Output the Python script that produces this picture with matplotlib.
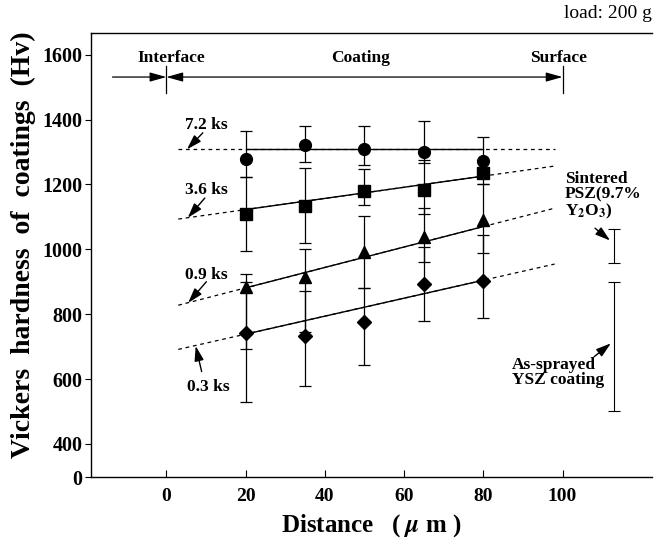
import numpy as np
import matplotlib
matplotlib.use("Agg")
import matplotlib.pyplot as plt

plt.rcParams['font.family'] = ['Liberation Serif', 'DejaVu Serif']
plt.rcParams['font.weight'] = 'bold'
plt.rcParams['mathtext.fontset'] = 'stix'

# ---------------- data ----------------
distance = [20, 35, 50, 65, 80]

hv_72 = [1278, 1320, 1309, 1301, 1273]
lo_72 = [1224, 1270, 1260, 1265, 1240]
hi_72 = [1366, 1381, 1380, 1394, 1346]

hv_36 = [1108, 1132, 1181, 1183, 1236]
lo_36 = [996, 1019, 1135, 1109, 1202]
hi_36 = [1224, 1250, 1246, 1276, 1270]

hv_09 = [885, 916, 993, 1037, 1091]
lo_09 = [692, 745, 880, 960, 988]
hi_09 = [924, 1000, 1103, 1126, 1200]

hv_03 = [741, 733, 775, 893, 901]
lo_03 = [530, 577, 643, 779, 787]
hi_03 = [900, 870, 880, 1008, 1044]

# fitted lines: intercept, slope  (7.2, 3.6, 0.9, 0.3 ks)
fit_labels = ['7.2 ks', '3.6 ks', '0.9 ks', '0.3 ks']
fit_intercept = [1308, 1088, 818, 683]
fit_slope = [0.0, 1.72, 3.15, 2.77]
fit_solid_range = [20, 80]
fit_dashed_range = [3, 98]

# reference materials (x position, mean, low, high)
ref_x = [113, 113]
ref_mean = [1010, 700]
ref_lo = [957, 500]
ref_hi = [1063, 900]

xticks = [0, 20, 40, 60, 80, 100]
yticks = [400, 600, 800, 1000, 1200, 1400, 1600]
y_bottom = 297
y_top = 1667

# ---------------- figure ----------------
fig = plt.figure(figsize=(6.55, 5.38), dpi=100)
ax = fig.add_axes([0.1385, 0.1128, 0.857, 0.826])
ax.set_xlim(-19.1, 122.6)
ax.set_ylim(y_bottom, y_top)

def eb(x, y, lo, hi, marker, ms):
    y = np.array(y); lo = np.array(lo); hi = np.array(hi)
    ax.errorbar(x, y, yerr=[y - lo, hi - y], fmt=marker, color='black',
                ms=ms, elinewidth=0.9, capsize=4, capthick=0.9,
                markeredgecolor='black', zorder=3)

eb(distance, hv_72, lo_72, hi_72, 'o', 8.5)
eb(distance, hv_36, lo_36, hi_36, 's', 8.5)
eb(distance, hv_09, lo_09, hi_09, '^', 8.5)
eb(distance, hv_03, lo_03, hi_03, 'D', 7)

for b, m in zip(fit_intercept, fit_slope):
    xd = np.array(fit_dashed_range, dtype=float)
    ax.plot(xd, b + m * xd, color='black', lw=0.9, ls=(0, (3, 3)), zorder=2)
    xs = np.array(fit_solid_range, dtype=float)
    ax.plot(xs, b + m * xs, color='black', lw=1.0, zorder=2)

rm = np.array(ref_mean); rl = np.array(ref_lo); rh = np.array(ref_hi)
ax.errorbar(ref_x, rm, yerr=[rm - rl, rh - rm], fmt='none', ecolor='black',
            elinewidth=0.8, capsize=4, capthick=0.8)

# ---------------- annotations ----------------
arrow = dict(arrowstyle='-|>,head_length=0.9,head_width=0.28', color='black',
             lw=1.0, shrinkA=0, shrinkB=0)
lab_font = dict(fontsize=12.5, fontweight='bold', ha='center', va='center')

ax.text(10.2, 1384, '7.2 ks', **lab_font)
ax.annotate('', xy=(5.2, 1308), xytext=(9.2, 1359), arrowprops=arrow)
ax.text(10.2, 1183, '3.6 ks', **lab_font)
ax.annotate('', xy=(5.4, 1097), xytext=(9.7, 1158), arrowprops=arrow)
ax.text(10.2, 921, '0.9 ks', **lab_font)
ax.annotate('', xy=(5.5, 835), xytext=(10.1, 900), arrowprops=arrow)
ax.text(10.5, 576, '0.3 ks', **lab_font)
ax.annotate('', xy=(7.4, 702), xytext=(8.9, 623), arrowprops=arrow)

ax.text(100.6, 1165, 'Sintered\nPSZ(9.7%\nY$_{\\mathbf{2}}$O$_{\\mathbf{3}}$)', fontsize=12.5,
        fontweight='bold', ha='left', va='center', linespacing=0.95)
ax.annotate('', xy=(112.0, 1027), xytext=(108.2, 1065), arrowprops=arrow)
ax.text(87.2, 621, 'As-sprayed\nYSZ coating', fontsize=12.5, fontweight='bold',
        ha='left', va='center', linespacing=0.95)
ax.annotate('', xy=(112.2, 710), xytext=(108.0, 669), arrowprops=arrow)

# region arrows at top
top_arrow = dict(arrowstyle='-|>,head_length=1.0,head_width=0.28', color='black',
                 lw=0.9, shrinkA=0, shrinkB=0)
both_arrow = dict(arrowstyle='<|-|>,head_length=1.0,head_width=0.28', color='black',
                  lw=0.9, shrinkA=0, shrinkB=0)
ax.annotate('', xy=(0, 1531), xytext=(-13.6, 1531), arrowprops=top_arrow)
ax.annotate('', xy=(100, 1531), xytext=(0, 1531), arrowprops=both_arrow)
ax.plot([0, 0], [1482, 1565], color='black', lw=0.9)
ax.plot([100, 100], [1482, 1565], color='black', lw=0.9)
ax.text(1.3, 1590, 'Interface', **lab_font)
ax.text(49, 1590, 'Coating', **lab_font)
ax.text(99, 1590, 'Surface', **lab_font)

# ---------------- axes styling ----------------
ax.spines['right'].set_visible(False)
for s in ['left', 'bottom', 'top']:
    ax.spines[s].set_linewidth(1.0)

ax.set_xticks(xticks)
ax.set_xticklabels([str(t) for t in xticks])
ax.tick_params(axis='x', direction='in', length=5, width=0.8, labelsize=14, pad=8)
ax.set_yticks([y_bottom] + yticks)
ax.set_yticklabels(['0'] + [str(t) for t in yticks])
ax.tick_params(axis='y', direction='out', length=4, width=0.8, labelsize=14.5, pad=2)
for lbl in ax.get_xticklabels() + ax.get_yticklabels():
    lbl.set_fontweight('bold')

ax.set_xlabel('Distance   ( $\\mu$ m )', fontsize=18, fontweight='bold')
ax.xaxis.label.set_va('center')
ax.xaxis.set_label_coords(0.5, -0.109)
ax.set_ylabel('Vickers  hardness  of  coatings  (Hv)', fontsize=20, fontweight='bold')
ax.yaxis.label.set_va('center')
ax.yaxis.set_label_coords(-0.1206, 0.523)

fig.text(0.995, 1 - 14 / 538, 'load: 200 g', fontsize=14, fontweight='normal',
         ha='right', va='center')

fig.savefig('out.png', dpi=100)
